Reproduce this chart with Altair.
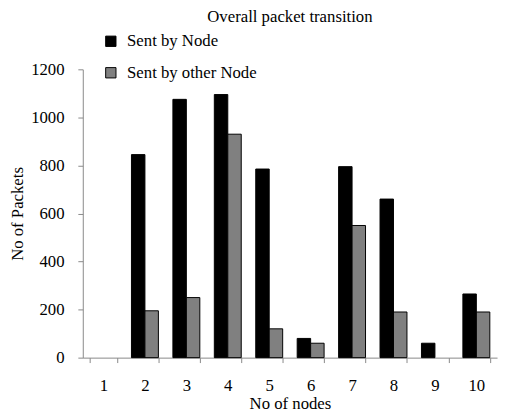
import altair as alt
import pandas as pd

nodes = [str(i) for i in range(1, 11)]
sent_by_node = [0, 845, 1075, 1095, 785, 80, 795, 660, 60, 265]
sent_by_other = [0, 195, 250, 930, 120, 60, 550, 190, 0, 190]
series = ["Sent by Node", "Sent by other Node"]
y_ticks = [0, 200, 400, 600, 800, 1000, 1200]

rows = []
for n, a, b in zip(nodes, sent_by_node, sent_by_other):
    rows.append({"node": n, "series": series[0], "packets": a})
    rows.append({"node": n, "series": series[1], "packets": b})
df = pd.DataFrame(rows)

FONT = "Liberation Serif"

chart = alt.Chart(df).mark_bar(stroke="black", strokeWidth=1).encode(
    x=alt.X("node:N", sort=nodes,
            scale=alt.Scale(domain=nodes, paddingInner=0.35, paddingOuter=0.175),
            axis=alt.Axis(title="No of nodes", labelAngle=0, tickBand="extent",
                          domainColor="#888888", tickColor="#888888", tickSize=5,
                          labelPadding=15, titlePadding=3,
                          labelFontSize=17, titleFontSize=17, labelFont=FONT, titleFont=FONT,
                          titleFontWeight="normal", labelColor="black", titleColor="black")),
    xOffset=alt.XOffset("series:N", sort=series,
                        scale=alt.Scale(domain=series, paddingInner=0)),
    y=alt.Y("packets:Q", scale=alt.Scale(domain=[0, 1200]),
            axis=alt.Axis(title="No of Packets", values=y_ticks, grid=False, format="d",
                          domainColor="#888888", tickColor="#888888", tickSize=5,
                          labelPadding=14, titlePadding=4,
                          labelFontSize=17, titleFontSize=17, labelFont=FONT, titleFont=FONT,
                          titleFontWeight="normal", labelColor="black", titleColor="black")),
    color=alt.Color("series:N", sort=series,
                    scale=alt.Scale(domain=series, range=["#000000", "#808080"]),
                    legend=alt.Legend(title=None, orient="none", legendX=20, legendY=-37,
                                      direction="vertical", symbolType="square",
                                      symbolSize=110, symbolStrokeColor="black",
                                      symbolStrokeWidth=1, rowPadding=14,
                                      labelFont=FONT, labelFontSize=17, labelColor="black",
                                      labelOffset=8)),
).transform_filter(
    alt.datum.packets > 0
).properties(
    width=421,
    height=293,
    title=alt.TitleParams("Overall packet transition", font=FONT, fontSize=17,
                          fontWeight="normal", color="black", anchor="middle", offset=7),
    autosize=alt.AutoSizeParams(type="none"),
    padding={"left": 76, "top": 59, "right": 4, "bottom": 57},
).configure_view(stroke=None)

chart.save("out.html", embed_options={"renderer": "svg", "actions": False})
